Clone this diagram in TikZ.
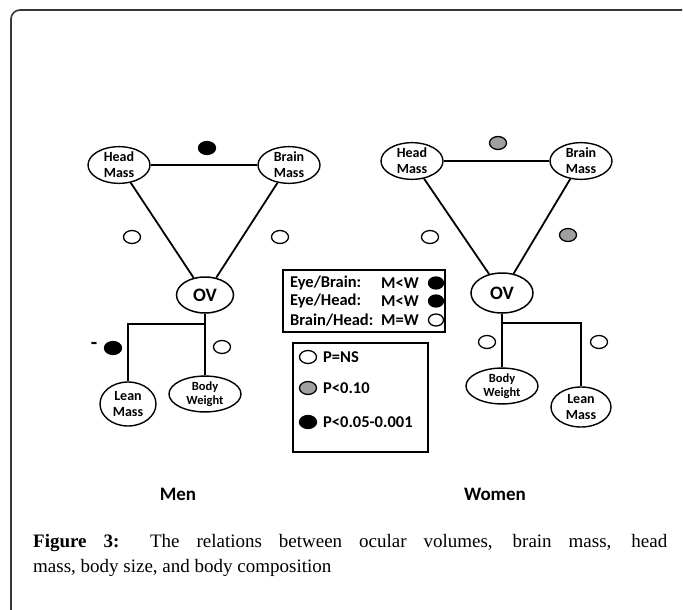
\documentclass[tikz,border=0pt]{standalone}
\usepackage{fontspec}
\setmainfont{Liberation Serif}
\setsansfont{Carlito}
\usetikzlibrary{shapes.geometric,positioning}
\definecolor{trendGray}{RGB}{160,160,160}
\definecolor{frameGray}{RGB}{55,55,55}
\tikzset{
  mass/.style={ellipse, draw, line width=1.4pt, inner sep=0pt, align=center,
               minimum width=62pt, minimum height=36pt,
               font=\sffamily\bfseries\fontsize{14}{16}\selectfont},
  weight/.style={mass, minimum width=72pt, minimum height=34pt,
                 font=\sffamily\bfseries\fontsize{12.5}{14.5}\selectfont},
  ovnode/.style={ellipse, draw, line width=1.5pt, inner sep=0pt,
                 minimum width=57pt, minimum height=36pt,
                 font=\sffamily\bfseries\fontsize{19}{21}\selectfont},
  link/.style={line width=1.8pt},
  sigdot/.style={ellipse, draw, line width=1.3pt, inner sep=0pt,
                 minimum width=17pt, minimum height=13pt},
  nsdot/.style={sigdot, fill=white},
  trenddot/.style={sigdot, fill=trendGray},
  strongdot/.style={sigdot, fill=black},
  keytext/.style={inner sep=0pt, anchor=west,
                  font=\sffamily\bfseries\fontsize{16.5}{18}\selectfont},
  keybox/.style={draw, line width=1.8pt, inner sep=0pt},
  sexlabel/.style={font=\sffamily\bfseries\fontsize{19}{21}\selectfont},
  caption/.style={anchor=north west, inner sep=0pt, text width=634pt, align=justify,
                  font=\fontsize{19}{25}\selectfont}
}
\begin{document}
\begin{tikzpicture}[x=1pt, y=-1pt]
  \useasboundingbox (0,0) rectangle (683,610);
  \draw[frameGray, line width=1.6pt, rounded corners=9pt] (11,611) -- (11,10) -- (682,10);

  \node[mass] (headM) at (119,165) {Head\\Mass};
  \node[mass] (brainM) at (289,165) {Brain\\Mass};
  \node[ovnode] (ovM) at (205,295) {OV};
  \node[mass, minimum width=56pt, minimum height=44pt] (leanM) at (128,404) {Lean\\Mass};
  \node[weight] (bodyM) at (205,394) {Body\\Weight};
  \coordinate (forkM) at (205,324);
  \node[strongdot] (dotHBm) at (207,148) {};
  \node[nsdot] (dotHOm) at (132,237) {};
  \node[nsdot] (dotBOm) at (280,237) {};
  \node[strongdot] (dotLm) at (113,348) {};
  \node[keytext, anchor=center, font=\sffamily\bfseries\fontsize{21}{22}\selectfont] (minusM) at (94,346) {-};
  \node[nsdot] (dotWm) at (222,347) {};
  \node[sexlabel] (men) at (178,494) {Men};

  \node[mass] (headW) at (412,161) {Head\\Mass};
  \node[mass] (brainW) at (581,161) {Brain\\Mass};
  \node[ovnode, minimum width=62pt, minimum height=40pt] (ovW) at (502,293) {OV};
  \node[weight] (bodyW) at (502,386) {Body\\Weight};
  \node[mass, minimum width=60pt, minimum height=40pt] (leanW) at (581,407) {Lean\\Mass};
  \coordinate (forkW) at (502,323);
  \node[trenddot] (dotHBw) at (498,143) {};
  \node[nsdot] (dotHOw) at (430,237) {};
  \node[trenddot] (dotBOw) at (568,235) {};
  \node[nsdot] (dotWw) at (487,342) {};
  \node[nsdot] (dotLw) at (599,342) {};
  \node[sexlabel] (women) at (495,494) {Women};

  \node[keybox, line width=2.2pt, minimum width=162pt, minimum height=62pt] (ratioKey) at (364,301) {};
  \node[keytext] (eyeBrain) at (290,283) {Eye/Brain:};
  \node[keytext] (eyeBrainV) at (381,283) {M<W};
  \node[strongdot, minimum width=15pt, minimum height=12pt] (eyeBrainD) at (436,283) {};
  \node[keytext] (eyeHead) at (290,301) {Eye/Head:};
  \node[keytext] (eyeHeadV) at (381,301) {M<W};
  \node[strongdot, minimum width=15pt, minimum height=12pt] (eyeHeadD) at (436,301) {};
  \node[keytext] (brainHead) at (290,320) {Brain/Head:};
  \node[keytext] (brainHeadV) at (381,320) {M=W};
  \node[nsdot, minimum width=15pt, minimum height=12pt] (brainHeadD) at (436,320) {};

  \node[keybox, line width=1.5pt, minimum width=135pt, minimum height=109pt] (pKey) at (360.5,397.5) {};
  \node[nsdot] (pNSd) at (308,357) {};
  \node[keytext] (pNS) at (323,357) {P=NS};
  \node[trenddot] (pTrendd) at (308,388) {};
  \node[keytext] (pTrend) at (323,388) {P<0.10};
  \node[strongdot] (pSigd) at (308,422) {};
  \node[keytext] (pSig) at (323,422) {P<0.05-0.001};

  \node[caption] (cap) at (33,534) {\textbf{Figure 3:} The relations between ocular volumes, brain mass, head\linebreak mass, body size, and body composition};

  \draw[link] (headM) -- (brainM);
  \draw[link] (headM) -- (ovM);
  \draw[link] (brainM) -- (ovM);
  \draw[link] (ovM.south) -- (forkM) -- (bodyM.north);
  \draw[link] (forkM) -| (leanM.north);

  \draw[link] (headW) -- (brainW);
  \draw[link] (headW) -- (ovW);
  \draw[link] (brainW) -- (ovW);
  \draw[link] (ovW.south) -- (forkW) -- (bodyW.north);
  \draw[link] (forkW) -| (leanW.north);
\end{tikzpicture}
\end{document}
